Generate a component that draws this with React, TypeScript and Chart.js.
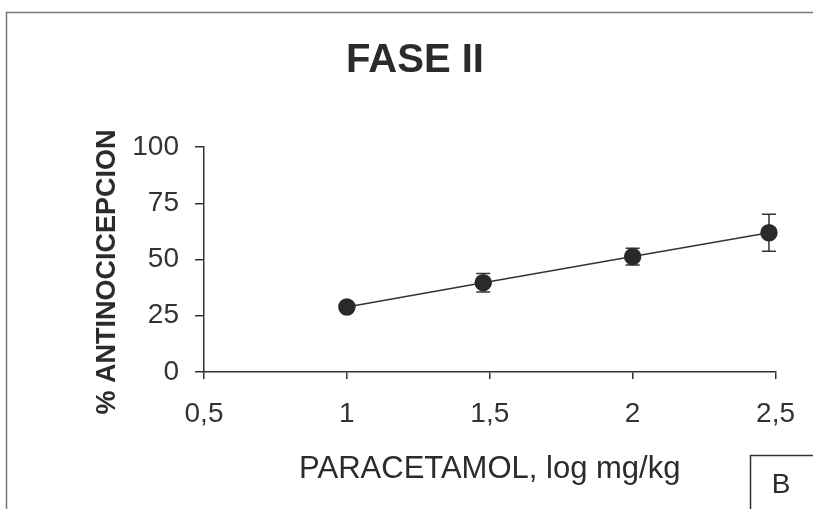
import { useEffect, useRef } from "react";
import { Chart, registerables } from "chart.js";

Chart.register(...registerables);

// Data
const doseLog = [1, 1.477, 2, 2.477];
const antinocicepcion = [28.9, 39.7, 51.3, 61.9];
const semValues = [1.5, 4.1, 3.7, 8.2];
const xTickValues = [0.5, 1, 1.5, 2, 2.5];
const xTickLabels = ["0,5", "1", "1,5", "2", "2,5"];
const yTickValues = [0, 25, 50, 75, 100];

const chartTitle = "FASE II";
const xTitle = "PARACETAMOL, log mg/kg";
const yTitle = "% ANTINOCICEPCION";
const panelLabel = "B";

const INK = "#333333";
const FONT = "'Liberation Sans', Arial, sans-serif";

const decorPlugin = {
  id: "decor",
  beforeDraw(chart: any) {
    const ctx = chart.ctx;
    ctx.save();
    ctx.fillStyle = "#ffffff";
    ctx.fillRect(0, 0, chart.width, chart.height);
    // outer frame (top and left)
    ctx.strokeStyle = "#777777";
    ctx.lineWidth = 1.5;
    ctx.beginPath();
    ctx.moveTo(6.5, chart.height);
    ctx.lineTo(6.5, 12.5);
    ctx.lineTo(chart.width, 12.5);
    ctx.stroke();
    ctx.restore();
  },
  beforeDatasetsDraw(chart: any) {
    const ctx = chart.ctx;
    const xs = chart.scales.x;
    const ys = chart.scales.y;
    ctx.save();
    ctx.strokeStyle = INK;
    ctx.lineWidth = 1.5;
    doseLog.forEach((xv, i) => {
      const px = xs.getPixelForValue(xv);
      const top = ys.getPixelForValue(antinocicepcion[i] + semValues[i]);
      const bot = ys.getPixelForValue(antinocicepcion[i] - semValues[i]);
      ctx.beginPath();
      ctx.moveTo(px, top);
      ctx.lineTo(px, bot);
      ctx.moveTo(px - 7, top);
      ctx.lineTo(px + 7, top);
      ctx.moveTo(px - 7, bot);
      ctx.lineTo(px + 7, bot);
      ctx.stroke();
    });
    ctx.restore();
  },
  afterDraw(chart: any) {
    const ctx = chart.ctx;
    const xs = chart.scales.x;
    ctx.save();
    ctx.fillStyle = "#2b2b2b";
    // Title
    ctx.font = `bold 40px ${FONT}`;
    ctx.textAlign = "center";
    ctx.textBaseline = "alphabetic";
    ctx.fillText(chartTitle, 415, 72);
    // X title
    ctx.font = `31px ${FONT}`;
    ctx.fillText(xTitle, (xs.left + xs.right) / 2, 478);
    // Y title
    ctx.save();
    ctx.translate(115, 272);
    ctx.rotate(-Math.PI / 2);
    ctx.font = `bold 27px ${FONT}`;
    ctx.fillText(yTitle, 0, 0);
    ctx.restore();
    // Panel label box
    ctx.strokeStyle = INK;
    ctx.lineWidth = 1.5;
    ctx.strokeRect(750.5, 455.5, 70, 70);
    ctx.font = `28px ${FONT}`;
    ctx.fillText(panelLabel, 781, 493);
    ctx.restore();
  },
};

export default function App() {
  const ref = useRef<HTMLCanvasElement | null>(null);

  useEffect(() => {
    document.body.style.margin = "0";
    const canvas = ref.current;
    if (!canvas) return;
    const chart = new Chart(canvas, {
      type: "scatter",
      data: {
        datasets: [
          {
            data: doseLog.map((x, i) => ({ x, y: antinocicepcion[i] })),
            showLine: true,
            borderColor: INK,
            borderWidth: 1.5,
            backgroundColor: "#2a2a2a",
            pointBackgroundColor: "#2a2a2a",
            pointBorderColor: "#2a2a2a",
            pointRadius: 8,
            pointHoverRadius: 8,
            clip: false as any,
          },
        ],
      },
      options: {
        animation: false,
        responsive: false,
        devicePixelRatio: 1,
        events: [],
        layout: { padding: { top: 147, right: 36, left: 0, bottom: 0 } },
        plugins: {
          legend: { display: false },
          tooltip: { enabled: false },
          title: { display: false },
        },
        scales: {
          x: {
            type: "linear",
            min: 0.5,
            max: 2.5,
            afterBuildTicks: (s: any) => {
              s.ticks = xTickValues.map((v) => ({ value: v }));
            },
            afterFit: (s: any) => {
              s.height = 137;
            },
            ticks: {
              color: INK,
              font: { family: FONT, size: 28 },
              padding: 18,
              maxRotation: 0,
              autoSkip: false,
              callback: (v: any) => {
                const i = xTickValues.indexOf(Number(v));
                return i >= 0 ? xTickLabels[i] : "";
              },
            },
            grid: {
              display: true,
              drawOnChartArea: false,
              drawTicks: true,
              tickLength: 7,
              color: INK,
              lineWidth: 1.5,
            },
            border: { display: true, color: INK, width: 1.5 },
          },
          y: {
            type: "linear",
            min: 0,
            max: 100,
            afterBuildTicks: (s: any) => {
              s.ticks = yTickValues.map((v) => ({ value: v }));
            },
            afterFit: (s: any) => {
              s.width = 204;
            },
            ticks: {
              color: INK,
              font: { family: FONT, size: 28 },
              padding: 16,
              autoSkip: false,
            },
            grid: {
              display: true,
              drawOnChartArea: false,
              drawTicks: true,
              tickLength: 9,
              color: INK,
              lineWidth: 1.5,
            },
            border: { display: true, color: INK, width: 1.5 },
          },
        },
      },
      plugins: [decorPlugin],
    });
    return () => chart.destroy();
  }, []);

  return (
    <div style={{ width: 813, height: 509 }}>
      <canvas ref={ref} width={813} height={509} style={{ display: "block", width: 813, height: 509 }} />
    </div>
  );
}
